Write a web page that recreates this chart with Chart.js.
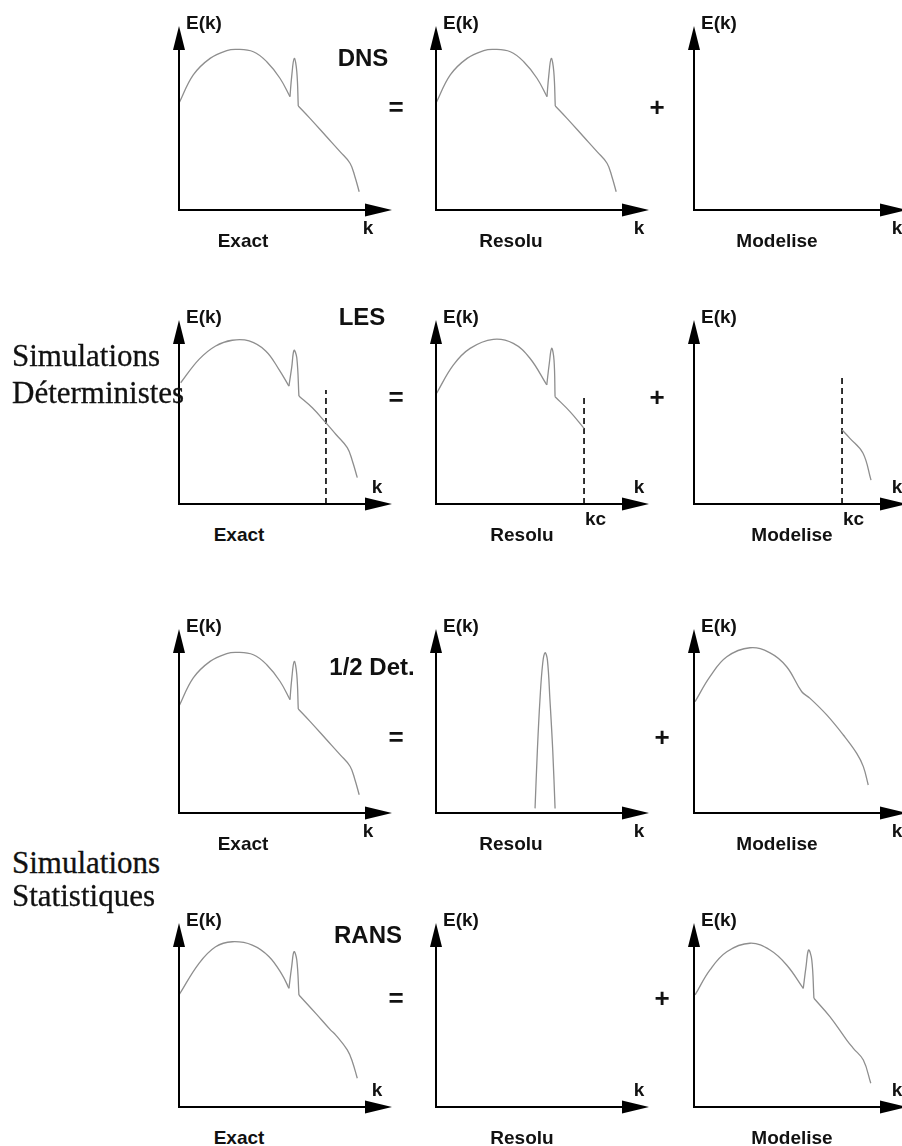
<!DOCTYPE html>
<html lang="fr">
<head>
<meta charset="UTF-8" />
<title>Spectres E(k) - DNS / LES / 1/2 Det. / RANS</title>
<script src="https://cdn.jsdelivr.net/npm/chart.js"></script>
<style>
  html, body { margin: 0; padding: 0; background: #fff; overflow: hidden; }
  #page { position: relative; width: 902px; height: 1146px; overflow: hidden; }
  canvas.panel { position: absolute; }
  .lbl { position: absolute; transform: translate(-50%, -50%); font-family: "Liberation Sans", Arial, sans-serif;
         font-weight: bold; font-size: 19px; color: #111; white-space: nowrap; line-height: 1; }
  .left { transform: translate(0, -50%); }
  .title { font-size: 24px; }
  .op { font-size: 26px; }
  .side { position: absolute; left: 12px; transform: translate(0, -50%); font-family: "Liberation Serif", "Times New Roman", serif;
          font-size: 31px; color: #111; white-space: nowrap; line-height: 1; -webkit-text-stroke: 0.3px #111; }
</style>
</head>
<body>
<div id="page"></div>

<script>
// k and E(k) in arbitrary units, both axes run 0..100

// full spectrum (DNS exact / resolu, 1/2 Det. exact)
const dnsK = [0, 6.7, 14.6, 22.4, 27.1, 34.9, 41.2, 47.4, 52.1, 52.9, 54.1, 55.3, 56.0, 61.5, 69.3, 75.6, 80.3, 82.6, 84.6];
const dnsE = [58, 73.4, 82.4, 86.6, 87.3, 86, 80.6, 71.6, 61.6, 72.5, 82.4, 75.2, 56.5, 49.8, 39.8, 31.7, 25.4, 18.1, 9.9];

// LES
const lesExactK = [0.8, 9.4, 17.2, 25, 32.9, 40.7, 46.9, 51.6, 52.9, 54, 55.3, 56.3, 62.6, 68.9, 73.6, 79, 81.4, 83.7];
const lesExactE = [65.9, 78.6, 85.9, 89, 88.6, 83.2, 73.2, 64.1, 74.1, 83.5, 79.5, 58.7, 52.3, 44.2, 37.9, 30.6, 23.4, 14.3];
const lesResK = [0.3, 8.1, 16, 26.9, 36.3, 44.1, 52, 53.2, 54.3, 55.4, 55.9, 62.9, 69.5];
const lesResE = [60.2, 75.5, 84.6, 89.5, 87.3, 79.2, 64.7, 76.5, 84.6, 78.3, 58.3, 50.2, 41.1];
const lesModK = [69.5, 73.2, 79.3, 83.1];
const lesModE = [40.2, 35.7, 27.7, 13];
// cut-off kc (dashed line) for Exact / Resolu / Modelise
const cutK = [69, 69.5, 69.5];
const cutTop = [62, 59, 70];

// 1/2 Det.
const halfResK = [46.5, 47.6, 48.8, 50.1, 51.2, 52.3, 53.5, 54.8, 55.9];
const halfResE = [2.5, 34.2, 61.4, 81.4, 87.1, 83.2, 61.4, 34.2, 2.5];
const halfModK = [0.5, 7.5, 15.4, 26.3, 35.7, 43.5, 50.6, 54.5, 62.3, 70.1, 76.4, 79.5, 81.8];
const halfModE = [60.5, 74.1, 84.9, 89.8, 87, 79.5, 65.9, 62.3, 53.3, 42.4, 32.4, 25.2, 15.2];

// RANS
const ransK = [0, 9.4, 17.2, 25, 34.4, 42.3, 48.5, 51.6, 52.9, 54, 55.3, 56.3, 64.2, 71.2, 73.6, 79, 81.4, 83.7];
const ransE = [60.9, 78.1, 87.1, 89.8, 88, 81.7, 71.7, 64.5, 76.3, 84.4, 79.9, 60.9, 50.9, 41.8, 39.1, 31, 24.6, 15.6];
const ransModK = [0.5, 7.5, 15.4, 26.3, 35.7, 43.5, 51.3, 52.6, 53.8, 55.3, 56.3, 63.8, 71.7, 74.8, 79.5, 83];
const ransModE = [60.9, 74.5, 84.4, 89, 85.3, 77.2, 64.5, 76.3, 85.3, 79.9, 59.1, 49.1, 36.4, 31.9, 25.5, 12.9];

// texts
const rowTitles = ['DNS', 'LES', '1/2 Det.', 'RANS'];
const colLabels = ['Exact', 'Resolu', 'Modelise'];
const yLabel = 'E(k)';
const xLabel = 'k';
const cutLabel = 'kc';
const groupLabels = [['Simulations', 'Déterministes'], ['Simulations', 'Statistiques']];

// ---- layout ----
const axisX = [179, 436, 694];
const axisY = [210, 504, 813, 1107];
const W = 213, H = 184, PAD = 10;
const titleX = [363, 362, 372, 368];
const titleY = [58, 317, 667, 935];
const opY = [107, 397, 737, 998];
const groupY = [[355, 392], [862, 895]];

const page = document.getElementById('page');

function label(text, x, y, cls) {
  const d = document.createElement('div');
  d.className = cls ? 'lbl ' + cls : 'lbl';
  d.textContent = text;
  d.style.left = x + 'px';
  d.style.top = y + 'px';
  page.appendChild(d);
  return d;
}

// a sketched spectrum: smooth pieces joined at sharp corners (dip before / foot after the spike)
function curve(ks, es, corners = []) {
  const pts = ks.map((k, i) => ({ x: k, y: es[i] }));
  const cuts = [0, ...corners, pts.length - 1];
  const sets = [];
  for (let i = 0; i < cuts.length - 1; i++) {
    sets.push({
      data: pts.slice(cuts[i], cuts[i + 1] + 1),
      borderColor: '#8e8e8e', borderWidth: 1.3, pointRadius: 0,
      tension: 0.4, fill: false
    });
  }
  return sets;
}

function cutoff(k, top) {
  return {
    data: [{ x: k, y: 0 }, { x: k, y: top }],
    borderColor: '#000', borderWidth: 1.6, borderDash: [6, 4], pointRadius: 0,
    tension: 0, fill: false
  };
}

// axis lines with arrow heads
const axesArrows = {
  id: 'axesArrows',
  afterDatasetsDraw(chart) {
    const { ctx, chartArea: a } = chart;
    ctx.save();
    ctx.strokeStyle = '#000';
    ctx.fillStyle = '#000';
    ctx.lineWidth = 2;
    ctx.beginPath();
    ctx.moveTo(a.left, a.bottom); ctx.lineTo(a.left, a.top + 20);
    ctx.moveTo(a.left - 1, a.bottom); ctx.lineTo(a.right - 20, a.bottom);
    ctx.stroke();
    ctx.beginPath();
    ctx.moveTo(a.left, a.top); ctx.lineTo(a.left - 6, a.top + 24); ctx.lineTo(a.left + 6, a.top + 24);
    ctx.closePath(); ctx.fill();
    ctx.beginPath();
    ctx.moveTo(a.right, a.bottom); ctx.lineTo(a.right - 27, a.bottom - 6.5); ctx.lineTo(a.right - 27, a.bottom + 6.5);
    ctx.closePath(); ctx.fill();
    ctx.restore();
  }
};

function addPanel(row, col, datasets) {
  const canvas = document.createElement('canvas');
  canvas.className = 'panel';
  const left = axisX[col] - PAD, top = axisY[row] - H - PAD;
  canvas.width = W + 2 * PAD;
  canvas.height = H + 2 * PAD;
  canvas.style.left = left + 'px';
  canvas.style.top = top + 'px';
  page.appendChild(canvas);

  const chart = new Chart(canvas, {
    type: 'line',
    data: { datasets },
    options: {
      responsive: false,
      animation: false,
      events: [],
      layout: { padding: PAD },
      plugins: { legend: { display: false }, tooltip: { enabled: false } },
      scales: {
        x: { type: 'linear', min: 0, max: 100, display: false },
        y: { type: 'linear', min: 0, max: 100, display: false }
      }
    },
    plugins: [axesArrows]
  });

  // axis labels
  const tipY = axisY[row] - H;
  label(yLabel, axisX[col] + 7, tipY - 4, 'left');
  const kx = col === 0 ? (row % 2 === 0 ? 189 : 198) : 203;
  const ky = row % 2 === 0 ? 17 : -18;
  label(xLabel, axisX[col] + kx, axisY[row] + ky);
  const lx = row % 2 === 0 ? [64, 75, 83][col] : [60, 86, 98][col];
  label(colLabels[col], axisX[col] + lx, axisY[row] + 30);
  return { chart, left };
}

const panelData = [
  [curve(dnsK, dnsE, [8, 12]), curve(dnsK, dnsE, [8, 12]), []],
  [[...curve(lesExactK, lesExactE, [7, 11]), cutoff(cutK[0], cutTop[0])],
   [...curve(lesResK, lesResE, [6, 10]), cutoff(cutK[1], cutTop[1])],
   [...curve(lesModK, lesModE), cutoff(cutK[2], cutTop[2])]],
  [curve(dnsK, dnsE, [8, 12]), curve(halfResK, halfResE), curve(halfModK, halfModE)],
  [curve(ransK, ransE, [7, 11]), [], curve(ransModK, ransModE, [6, 10])]
];

panelData.forEach((rowSets, row) => {
  rowSets.forEach((sets, col) => {
    const p = addPanel(row, col, sets);
    // kc under the cut-off line (LES resolu / modelise)
    if (row === 1 && col > 0) {
      const px = p.left + p.chart.scales.x.getPixelForValue(cutK[col]);
      label(cutLabel, px + 1, 518, 'left');
    }
  });
  label(rowTitles[row], titleX[row], titleY[row], 'title');
  label('=', 396, opY[row], 'op');
  label('+', row < 2 ? 657 : 662, opY[row], 'op');
});

groupLabels.forEach((lines, g) => {
  lines.forEach((t, i) => {
    const d = document.createElement('div');
    d.className = 'side';
    d.textContent = t;
    d.style.top = groupY[g][i] + 'px';
    page.appendChild(d);
  });
});
</script>
</body>
</html>
